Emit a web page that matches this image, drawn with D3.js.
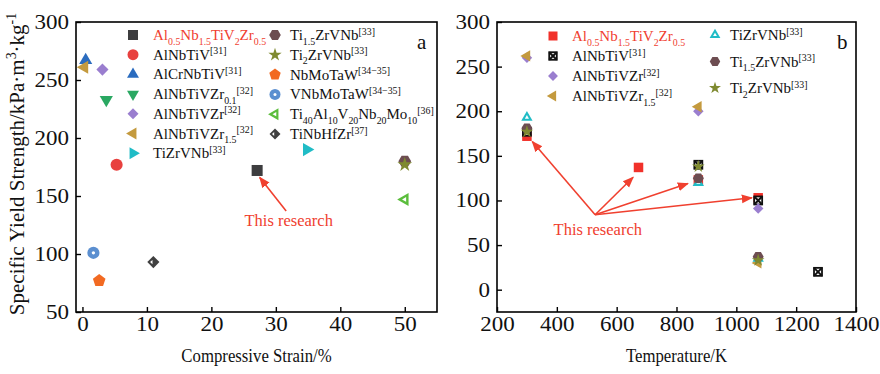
<!DOCTYPE html>
<html>
<head>
<meta charset="utf-8">
<script src="https://cdn.jsdelivr.net/npm/d3@7"></script>
<style>
  body { margin: 0; background: #fff; }
  svg { display: block; font-family: "Liberation Serif", "Times New Roman", serif; }
</style>
</head>
<body>
<div id="chart"></div>
<script>
// ---- data: panel a (strain vs specific yield strength) ----
const alloysA = [
  "Al_{0.5}Nb_{1.5}TiV_{2}Zr_{0.5}",
  "AlNbTiV^{[31]}",
  "AlCrNbTiV^{[31]}",
  "AlNbTiVZr_{0.1}^{[32]}",
  "AlNbTiVZr^{[32]}",
  "AlNbTiVZr_{1.5}^{[32]}",
  "TiZrVNb^{[33]}",
  "Ti_{1.5}ZrVNb^{[33]}",
  "Ti_{2}ZrVNb^{[33]}",
  "NbMoTaW^{[34\u221235]}",
  "VNbMoTaW^{[34\u221235]}",
  "Ti_{40}Al_{10}V_{20}Nb_{20}Mo_{10}^{[36]}",
  "TiNbHfZr^{[37]}"
];
const strainA   = [27.1, 5.3, 0.5, 3.7, 3.1, 0.3, 34.8, 50, 50, 2.6, 1.7, 50, 11];
const strengthA = [172, 177, 267, 233, 259, 261, 190, 180, 177, 77, 101, 147, 93];
const markersA  = ["square", "circle", "triUp", "triDown", "diamond", "triLeft", "triRight",
                   "hexagon", "star", "pentagon", "circleDot", "triLeftOpen", "diamondHalf"];
const colorsA   = ["#3d3d3f", "#e8413f", "#2b6cbf", "#2aa862", "#9a7ecf", "#c49a3e", "#20bcc6",
                   "#6d4d51", "#7f8a30", "#f26a22", "#5b8fd0", "#5bbd3c", "#404040"];

// ---- data: panel b (temperature vs specific yield strength) ----
const alloysB  = ["Al_{0.5}Nb_{1.5}TiV_{2}Zr_{0.5}", "AlNbTiV^{[31]}", "AlNbTiVZr^{[32]}",
                  "AlNbTiVZr_{1.5}^{[32]}", "TiZrVNb^{[33]}", "Ti_{1.5}ZrVNb^{[33]}", "Ti_{2}ZrVNb^{[33]}"];
const markersB = ["square", "xsquare", "diamond", "triLeft", "triUpDot", "hexagon", "star"];
const colorsB  = ["#f1312a", "#111111", "#9a7ecf", "#c49a3e", "#20bcc6", "#6d4d51", "#7f8a30"];
const tempB = [
  [300, 673, 873, 1073],
  [300, 873, 1073, 1273],
  [300, 873, 1073],
  [300, 873, 1073],
  [300, 873, 1073],
  [300, 873, 1073],
  [300, 873, 1073]
];
const strengthB = [
  [172, 137, 123, 103],
  [177, 140, 100, 20],
  [260, 200, 91],
  [262, 205, 30],
  [193, 120, 35],
  [181, 125, 37],
  [177, 138, 33]
];

// annotations ("This research") in data units
const noteA = { text: [32, 124], from: [31.6, 137], to: [[27.5, 166]] };
const noteB = { text: [537, 61], from: [528, 84], to: [[318, 166], [655, 126], [838, 119], [1052, 103]] };

const ticksA = [0, 10, 20, 30, 40, 50];
const ticksB = [200, 400, 600, 800, 1000, 1200, 1400];
const ticksY = [0, 50, 100, 150, 200, 250, 300];

const W = 880, H = 374;
const red = "#f0402f";

const svg = d3.select("#chart").append("svg").attr("width", W).attr("height", H);
svg.append("rect").attr("width", W).attr("height", H).attr("fill", "#fff");

const defs = svg.append("defs");
defs.append("marker")
  .attr("id", "arrow")
  .attr("viewBox", "0 0 10 10")
  .attr("refX", 9).attr("refY", 5)
  .attr("markerWidth", 7).attr("markerHeight", 7)
  .attr("orient", "auto-start-reverse")
  .append("path").attr("d", "M0,1 L10,5 L0,9 Z").attr("fill", red);

function polygon(n, r, rot) {
  const pts = d3.range(n).map((i) => {
    const a = rot + (i * 2 * Math.PI) / n;
    return [r * Math.cos(a), r * Math.sin(a)];
  });
  return "M" + pts.map((p) => p.join(",")).join("L") + "Z";
}

// draws one marker inside group g (already translated), s = nominal size px
function drawMarker(g, kind, color, s) {
  const tri = d3.symbol(d3.symbolTriangle, s * s * 0.62)();
  if (kind === "square") {
    g.append("rect").attr("x", -s / 2).attr("y", -s / 2).attr("width", s).attr("height", s).attr("fill", color);
  } else if (kind === "circle") {
    g.append("circle").attr("r", s * 0.55).attr("fill", color);
  } else if (kind === "circleDot") {
    g.append("circle").attr("r", s * 0.55).attr("fill", color);
    g.append("circle").attr("r", s * 0.15).attr("fill", "#fff");
  } else if (kind.startsWith("tri")) {
    const rot = { triUp: 0, triUpDot: 0, triDown: 180, triLeft: -90, triLeftOpen: -90, triRight: 90 }[kind];
    g.append("path").attr("d", tri).attr("fill", color).attr("transform", `rotate(${rot})`);
    if (kind === "triLeftOpen" || kind === "triUpDot") {
      g.append("path").attr("d", d3.symbol(d3.symbolTriangle, s * s * 0.08)())
        .attr("fill", "#fff").attr("transform", `rotate(${rot})`);
    }
  } else if (kind === "diamond" || kind === "diamondHalf") {
    const d = s * 0.78;
    g.append("rect").attr("x", -d / 2).attr("y", -d / 2).attr("width", d).attr("height", d)
      .attr("fill", color).attr("transform", "rotate(45)");
    if (kind === "diamondHalf") {
      g.append("path").attr("d", `M${-s * 0.3},0L${-s * 0.08},${-s * 0.2}L${-s * 0.08},${s * 0.2}Z`).attr("fill", "#fff");
    }
  } else if (kind === "hexagon") {
    g.append("path").attr("d", polygon(6, s * 0.58, 0)).attr("fill", color);
  } else if (kind === "pentagon") {
    g.append("path").attr("d", polygon(5, s * 0.6, -Math.PI / 2)).attr("fill", color);
  } else if (kind === "star") {
    g.append("path").attr("d", d3.symbol(d3.symbolStar, s * s * 0.55)()).attr("fill", color);
  } else if (kind === "xsquare") {
    const h = s * 0.42;
    g.append("rect").attr("x", -h).attr("y", -h).attr("width", 2 * h).attr("height", 2 * h)
      .attr("fill", "#fff").attr("stroke", color).attr("stroke-width", 1.8);
    g.append("path").attr("d", `M${-h},${-h}L${h},${h}M${h},${-h}L${-h},${h}`)
      .attr("stroke", color).attr("stroke-width", 2);
  }
}

// text with _{sub} and ^{sup} parts
function richText(t, str, size) {
  const parts = str.split(/(_\{[^}]*\}|\^\{[^}]*\})/).filter((p) => p.length);
  let shift = 0;
  parts.forEach((p) => {
    let txt = p, target = 0, fs = size;
    if (p.startsWith("_{")) { txt = p.slice(2, -1); target = size * 0.3; fs = size * 0.66; }
    else if (p.startsWith("^{")) { txt = p.slice(2, -1); target = -size * 0.36; fs = size * 0.66; }
    t.append("tspan").attr("dy", target - shift).attr("font-size", fs).text(txt);
    shift = target;
  });
}

function panel(opt) {
  const x = d3.scaleLinear().domain(opt.xDomain).range(opt.xRange);
  const y = d3.scaleLinear().domain(opt.yDomain).range([312, 22]);
  const g = svg.append("g");

  // frame
  g.append("rect")
    .attr("x", opt.xRange[0]).attr("y", 22)
    .attr("width", opt.xRange[1] - opt.xRange[0]).attr("height", 290)
    .attr("fill", "none").attr("stroke", "#000").attr("stroke-width", 1.6);

  const xAxis = g.append("g").attr("transform", "translate(0,312)")
    .call(d3.axisBottom(x).tickValues(opt.xTicks).tickFormat(d3.format("d"))
      .tickSizeInner(-5).tickSizeOuter(0).tickPadding(5));
  const yAxis = g.append("g").attr("transform", `translate(${opt.xRange[0]},0)`)
    .call(d3.axisLeft(y).tickValues(ticksY.filter((v) => v >= opt.yDomain[0])).tickFormat(d3.format("d"))
      .tickSizeInner(-5).tickSizeOuter(0).tickPadding(6));
  [xAxis, yAxis].forEach((a) => {
    a.select(".domain").remove();
    a.selectAll(".tick line").attr("stroke", "#000").attr("stroke-width", 1.4);
    a.selectAll(".tick text")
      .attr("fill", "#111")
      .style("font-family", "Liberation Serif, serif")
      .style("font-size", "20px")
      .attr("transform", "scale(1.15,1)");
  });

  // annotation
  const n = opt.note;
  n.to.forEach((t) => {
    g.append("line")
      .attr("x1", x(n.from[0])).attr("y1", y(n.from[1]))
      .attr("x2", x(t[0])).attr("y2", y(t[1]))
      .attr("stroke", red).attr("stroke-width", 1.6)
      .attr("marker-end", "url(#arrow)");
  });
  g.append("text")
    .attr("x", x(n.text[0])).attr("y", y(n.text[1]))
    .attr("text-anchor", "middle").attr("fill", red)
    .style("font-size", "16.5px").text("This research");

  // points
  opt.series.forEach((s) => {
    s.pts.forEach((p) => {
      const m = g.append("g").attr("transform", `translate(${x(p[0])},${y(p[1])})`);
      drawMarker(m, s.marker, s.color, opt.markerSize);
    });
  });

  // legend
  opt.series.forEach((s, i) => {
    const col = opt.legendCols.find((c) => i >= c.start && i < c.start + c.count);
    const k = i - col.start;
    const ly = col.y0 + k * col.step;
    const m = g.append("g").attr("transform", `translate(${col.mx},${ly})`);
    drawMarker(m, s.marker, s.color, opt.legendMarkerSize);
    const t = g.append("text")
      .attr("x", col.tx).attr("y", ly + 5)
      .attr("fill", i === 0 ? red : "#111")
      .style("font-size", "15px");
    richText(t, s.label, 15);
  });

  g.append("text").attr("x", opt.tag[0]).attr("y", opt.tag[1])
    .style("font-size", "21px").attr("fill", "#111").text(opt.tagText);

  g.append("text")
    .attr("transform", `translate(${(opt.xRange[0] + opt.xRange[1]) / 2},362) scale(0.86,1)`)
    .attr("text-anchor", "middle").attr("fill", "#111")
    .style("font-size", "19.5px").text(opt.xTitle);
}

panel({
  xDomain: [-1, 55], xRange: [76, 437], yDomain: [50, 300], xTicks: ticksA,
  series: alloysA.map((label, i) => ({ label, marker: markersA[i], color: colorsA[i], pts: [[strainA[i], strengthA[i]]] })),
  markerSize: 11, legendMarkerSize: 10,
  legendCols: [
    { start: 0, count: 7, mx: 133, tx: 153, y0: 35, step: 19.7 },
    { start: 7, count: 6, mx: 275, tx: 290, y0: 35, step: 19.8 }
  ],
  note: noteA, tag: [417, 49], tagText: "a", xTitle: "Compressive Strain/%"
});

panel({
  xDomain: [200, 1400], xRange: [497, 856], yDomain: [-25, 300], xTicks: ticksB,
  series: alloysB.map((label, i) => ({ label, marker: markersB[i], color: colorsB[i], pts: tempB[i].map((t, j) => [t, strengthB[i][j]]) })),
  markerSize: 9.5, legendMarkerSize: 9,
  legendCols: [
    { start: 0, count: 4, mx: 553, tx: 572, y0: 36, step: 20 },
    { start: 4, count: 3, mx: 715, tx: 730, y0: 35, step: 26.5 }
  ],
  note: noteB, tag: [837, 49], tagText: "b", xTitle: "Temperature/K"
});

// y title
const yt = svg.append("text")
  .attr("transform", "translate(24,164) rotate(-90)")
  .attr("text-anchor", "middle").attr("fill", "#111")
  .style("font-size", "21px");
richText(yt, "Specific Yield Strength/kPa\u00b7m^{3}\u00b7kg^{-1}", 21);
</script>
</body>
</html>
